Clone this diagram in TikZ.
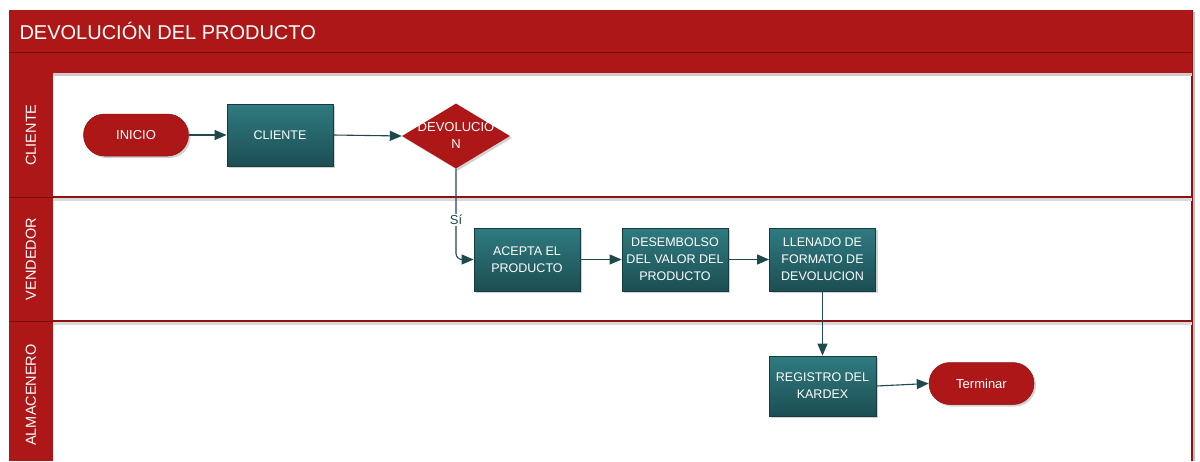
\documentclass[tikz,border=0pt]{standalone}
\usepackage{fontspec}
\setmainfont{Liberation Sans}
\usetikzlibrary{shapes.geometric,arrows.meta,shadows,calc}
\definecolor{lanered}{HTML}{AD1717}
\definecolor{darkred}{HTML}{8E1212}
\definecolor{tealtop}{HTML}{2F7B80}
\definecolor{tealbot}{HTML}{1C4E53}
\definecolor{tealedge}{HTML}{163C40}
\definecolor{arrowc}{HTML}{1F4A4D}
\tikzset{
  procbox/.style={rectangle, draw=tealedge, line width=0.8pt, top color=tealtop, bottom color=tealbot,
    minimum width=106pt, minimum height=62pt, text=white, align=center, font=\fontsize{12.5}{17}\selectfont,
    drop shadow={opacity=0.35, shadow xshift=2pt, shadow yshift=-2pt}},
  pill/.style={rectangle, rounded corners=21pt, fill=lanered, draw=darkred, line width=0.5pt,
    minimum width=105pt, minimum height=42pt, text=white, font=\fontsize{13}{15}\selectfont,
    drop shadow={opacity=0.35, shadow xshift=2pt, shadow yshift=-2pt}},
  decide/.style={diamond, aspect=1.66, fill=lanered, inner sep=0pt, minimum width=108pt, minimum height=65pt,
    drop shadow={opacity=0.35, shadow xshift=2pt, shadow yshift=-2pt}},
  lanelbl/.style={rotate=90, text=white, font=\fontsize{14.5}{16}\selectfont},
  flow/.style={draw=arrowc, line width=1.1pt, -{Triangle[length=12pt,width=10pt]}},
  laneline/.style={draw=darkred, line width=1.2pt}
}
\begin{document}
\begin{tikzpicture}[x=1pt,y=-1pt]
\useasboundingbox (0,0) rectangle (1200,461);
\fill[white] (0,0) rectangle (1200,461);
% outer frame / right border
\fill[black!25] (11,12) rectangle (1195,461);
\fill[white] (9,10) rectangle (1192,461);
\draw[darkred, line width=1.2pt] (1192,10) -- (1192,461);
% title bar
\fill[lanered] (9,10) rectangle (1192,73);
\draw[darkred!80!black, line width=1pt] (9,52) -- (1192,52);
\node[anchor=west, text=white, font=\fontsize{20}{22}\selectfont] (title) at (16,31) {DEVOLUCIÓN DEL PRODUCTO};
\fill[black!20] (53,73) rectangle (1192,76);
% lane label column
\fill[lanered] (9,73) rectangle (53,461);
\draw[darkred!80!black, line width=0.8pt] (9,197) -- (53,197);
\draw[darkred!80!black, line width=0.8pt] (9,321) -- (53,321);
% lane lines
\fill[black!15] (53,198) rectangle (1192,201);
\fill[black!15] (53,322) rectangle (1192,325);
\draw[laneline] (53,197) -- (1192,197);
\draw[laneline] (53,321) -- (1192,321);
\node[lanelbl] (l1) at (31,135) {CLIENTE};
\node[lanelbl] (l2) at (31,259) {VENDEDOR};
\node[lanelbl] (l3) at (31,395) {ALMACENERO};
% nodes
\node[pill] (inicio) at (136,135) {INICIO};
\node[procbox] (cliente) at (280,135) {CLIENTE};
\node[decide] (dev) at (456,136) {};
\node[text=white, align=center, font=\fontsize{13}{17}\selectfont] (devt) at (456,135) {DEVOLUCIO\\N};
\node[procbox, minimum height=63pt] (acepta) at (527,259.5) {ACEPTA EL\\PRODUCTO};
\node[procbox, minimum height=63pt] (desem) at (675,259.5) {DESEMBOLSO\\DEL VALOR DEL\\PRODUCTO};
\node[procbox, minimum height=63pt] (llen) at (822.5,259.5) {LLENADO DE\\FORMATO DE\\DEVOLUCION};
\node[procbox, minimum width=107pt, minimum height=60pt] (reg) at (822.5,386) {REGISTRO DEL\\KARDEX};
\node[pill] (fin) at (981.5,383.5) {Terminar};
% connectors
\draw[flow] (inicio) -- (cliente);
\draw[flow] (cliente.east) -- (dev.west);
\draw[flow, rounded corners=6pt] (dev.south) -- (456,259.5) -- (acepta.west);
\node[fill=white, text=arrowc, font=\fontsize{13}{15}\selectfont, inner sep=1.5pt] (sil) at (456,220) {Sí};
\draw[flow] (acepta) -- (desem);
\draw[flow] (desem) -- (llen);
\draw[flow] (llen) -- (reg);
\draw[flow] (reg.east) -- (fin.west);
\end{tikzpicture}
\end{document}
